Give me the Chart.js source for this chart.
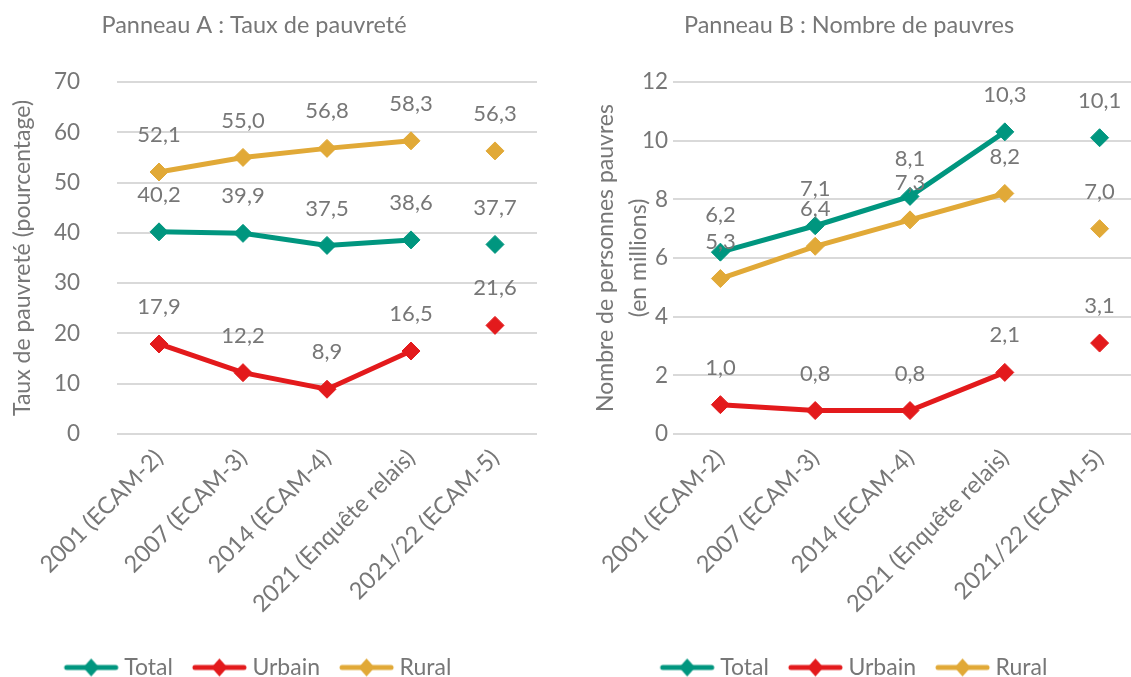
<!DOCTYPE html>
<html>
<head>
<meta charset="utf-8">
<script src="https://cdn.jsdelivr.net/npm/chart.js@4.4.0/dist/chart.umd.min.js"></script>
<style>
  html, body { margin: 0; padding: 0; background: #fff; overflow: hidden; width: 1131px; height: 677px; }
  #wrapA { position: absolute; left: -52px; top: 0; }
  #wrapB { position: absolute; left: 543px; top: 0; }
</style>
</head>
<body>
<div id="wrapA"><canvas id="chartA" width="612" height="689"></canvas></div>
<div id="wrapB"><canvas id="chartB" width="614" height="689"></canvas></div>
<script>
// categories (enquetes)
const categories = ["2001 (ECAM-2)", "2007 (ECAM-3)", "2014 (ECAM-4)", "2021 (Enquête relais)", "2021/22 (ECAM-5)"];
const seriesNames = ["Total", "Urbain", "Rural"];

// Panneau A : taux de pauvrete (%)
const tauxTotal  = [40.2, 39.9, 37.5, 38.6, 37.7];
const tauxUrbain = [17.9, 12.2, 8.9, 16.5, 21.6];
const tauxRural  = [52.1, 55.0, 56.8, 58.3, 56.3];
const ticksA = [0, 10, 20, 30, 40, 50, 60, 70];

// Panneau B : nombre de pauvres (millions)
const nombreTotal  = [6.2, 7.1, 8.1, 10.3, 10.1];
const nombreUrbain = [1.0, 0.8, 0.8, 2.1, 3.1];
const nombreRural  = [5.3, 6.4, 7.3, 8.2, 7.0];
const ticksB = [0, 2, 4, 6, 8, 10, 12];

const TEAL = '#00967f';
const RED = '#e31a1c';
const GOLD = '#e1a937';
const colors = [TEAL, RED, GOLD];
const GREY = '#777777';
const FONT = 'Lato, "Open Sans", sans-serif';

// little line + diamond picture for the legend
// (picture is wider than the legend box and shifted right so the text sits close to it)
function legendIcon(color) {
  const c = document.createElement('canvas');
  c.width = 80; c.height = 22;
  const g = c.getContext('2d');
  g.strokeStyle = color; g.lineWidth = 5; g.lineCap = 'round';
  g.beginPath(); g.moveTo(22, 11); g.lineTo(71, 11); g.stroke();
  g.fillStyle = color;
  g.beginPath(); g.moveTo(46.5, 2); g.lineTo(54.5, 11); g.lineTo(46.5, 20); g.lineTo(38.5, 11); g.closePath(); g.fill();
  return c;
}
const icons = colors.map(legendIcon);

// value labels above each point, comma decimals
const valueLabels = {
  id: 'valueLabels',
  afterDatasetsDraw(chart) {
    const ctx = chart.ctx;
    ctx.save();
    ctx.font = '22px ' + FONT;
    ctx.fillStyle = GREY;
    ctx.textAlign = 'center';
    ctx.textBaseline = 'middle';
    chart.data.datasets.forEach((ds, i) => {
      chart.getDatasetMeta(i).data.forEach((pt, j) => {
        const v = ds.data[j];
        if (v == null) return;
        ctx.fillText(v.toFixed(1).replace('.', ','), pt.x, pt.y - 37);
      });
    });
    ctx.restore();
  }
};

// panel title drawn at a given x
const panelTitle = {
  id: 'panelTitle',
  afterDraw(chart, args, opts) {
    const ctx = chart.ctx;
    ctx.save();
    ctx.font = '23.5px ' + FONT;
    ctx.fillStyle = GREY;
    ctx.textAlign = 'center';
    ctx.textBaseline = 'middle';
    ctx.fillText(opts.text, opts.x, opts.y);
    ctx.restore();
  }
};

function makeDataset(label, data, color) {
  return {
    label: label,
    data: data,
    borderColor: color,
    backgroundColor: color,
    borderWidth: 5,
    pointStyle: 'rectRot',
    pointRadius: 9,
    pointBorderWidth: 1,
    pointHoverRadius: 9,
    // the last survey is not joined to the others
    segment: { borderColor: c => c.p1DataIndex === 4 ? 'rgba(0,0,0,0)' : undefined }
  };
}

function makeChart(id, series, yTicks, o) {
  return new Chart(document.getElementById(id), {
    type: 'line',
    data: {
      labels: categories,
      datasets: series.map((d, i) => makeDataset(seriesNames[i], d, colors[i]))
    },
    plugins: [valueLabels, panelTitle],
    options: {
      responsive: false,
      animation: false,
      layout: { padding: { top: 82, left: o.padLeft, right: o.padRight, bottom: 0 } },
      scales: {
        x: {
          offset: true,
          grid: { display: false },
          border: { display: false },
          ticks: { color: GREY, font: { family: FONT, size: 23.5 }, minRotation: 45, maxRotation: 45, padding: 2 },
          afterFit: s => { s.height = 210; }
        },
        y: {
          min: yTicks[0],
          max: yTicks[yTicks.length - 1],
          ticks: { stepSize: yTicks[1] - yTicks[0], color: GREY, font: { family: FONT, size: 22.5 }, padding: o.tickPad },
          grid: { color: '#d9d9d9', lineWidth: 2, drawTicks: false },
          border: { display: false },
          title: {
            display: true,
            text: o.yTitle,
            color: GREY,
            font: { family: FONT, size: 23, lineHeight: 1.45 },
            padding: { top: o.titlePad, bottom: 0 }
          },
          afterFit: s => { s.width = o.yWidth; }
        }
      },
      plugins: {
        legend: {
          position: 'bottom',
          labels: {
            usePointStyle: true,
            pointStyleWidth: 56,
            padding: 12,
            color: GREY,
            font: { family: FONT, size: 23 },
            generateLabels: chart => chart.data.datasets.map((ds, i) => ({
              text: ds.label,
              pointStyle: icons[i],
              fillStyle: ds.borderColor,
              strokeStyle: ds.borderColor,
              lineWidth: 0,
              fontColor: GREY,
              hidden: false,
              datasetIndex: i
            }))
          }
        },
        tooltip: { enabled: false },
        panelTitle: { text: o.title, x: o.titleX, y: 25 }
      }
    }
  });
}

// canvas A starts at x = -52, canvas B at x = 543 on the page
makeChart('chartA', [tauxTotal, tauxUrbain, tauxRural], ticksA, {
  title: 'Panneau A : Taux de pauvreté',
  titleX: 306,
  yTitle: 'Taux de pauvreté (pourcentage)',
  yWidth: 146,
  tickPad: 37,
  titlePad: 35,
  padLeft: 23,
  padRight: 23
});

makeChart('chartB', [nombreTotal, nombreUrbain, nombreRural], ticksB, {
  title: 'Panneau B : Nombre de pauvres',
  titleX: 306,
  yTitle: ['Nombre de personnes pauvres', '(en millions)'],
  yWidth: 130,
  tickPad: 5,
  titlePad: 46,
  padLeft: 0,
  padRight: 0
});
</script>
</body>
</html>
